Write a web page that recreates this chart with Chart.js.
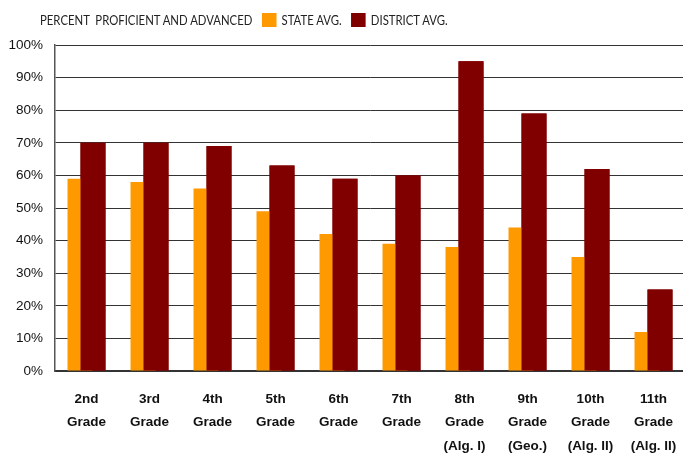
<!DOCTYPE html>
<html>
<head>
<meta charset="utf-8">
<script src="https://cdn.jsdelivr.net/npm/chart.js@4"></script>
<style>
  html, body { margin: 0; padding: 0; background: #fff; overflow: hidden; }
  #wrap { position: relative; width: 685px; height: 453px; }
  #legend {
    position: absolute; left: 40px; top: 11px;
    font: 14px Lato, "Open Sans", sans-serif; color: #222;
    display: flex; align-items: center; white-space: pre;
    transform: scaleX(0.81); transform-origin: left center;
  }
  #legend i { display: inline-block; width: 18px; height: 14px; margin: 0 6px 0 12px; }
</style>
</head>
<body>
<div id="wrap">
  <canvas id="chart"></canvas>
  <div id="legend"></div>
</div>
<script>
// Chart data
const categories = [
  ['2nd', 'Grade'], ['3rd', 'Grade'], ['4th', 'Grade'], ['5th', 'Grade'], ['6th', 'Grade'],
  ['7th', 'Grade'], ['8th', 'Grade', '(Alg. I)'], ['9th', 'Grade', '(Geo.)'],
  ['10th', 'Grade', '(Alg. II)'], ['11th', 'Grade', '(Alg. II)']
];
const stateAvg = [59, 58, 56, 49, 42, 39, 38, 44, 35, 12];
const districtAvg = [70, 70, 69, 63, 59, 60, 95, 79, 62, 25];
const legendTitle = 'PERCENT  PROFICIENT AND ADVANCED';

const colors = { state: '#FF9900', district: '#800000' };

// draw the district bars over the overlapping state bars (Excel-style overlap)
const districtOnTop = {
  id: 'districtOnTop',
  afterDatasetsDraw(chart) {
    chart.getDatasetMeta(1).controller.draw();
  }
};

const ctx = document.getElementById('chart').getContext('2d');
const chart = new Chart(ctx, {
  type: 'bar',
  data: {
    labels: categories,
    datasets: [{
      label: 'STATE AVG.',
      data: stateAvg,
      backgroundColor: colors.state,
      categoryPercentage: 0.413,
      barPercentage: 1.92
    }, {
      label: 'DISTRICT AVG.',
      data: districtAvg,
      backgroundColor: colors.district,
      categoryPercentage: 0.413,
      barPercentage: 1.92
    }]
  },
  plugins: [districtOnTop],
  options: {
    responsive: true,
    maintainAspectRatio: false,
    animation: false,
    layout: { padding: { top: 45, right: 0, left: 0, bottom: 0 } },
    plugins: {
      legend: { display: false },
      tooltip: { enabled: false }
    },
    scales: {
      x: {
        grid: { display: false, drawTicks: false },
        border: { color: '#333', width: 2 },
        ticks: {
          color: '#111',
          padding: 16,
          maxRotation: 0,
          autoSkip: false,
          font: { family: 'Liberation Sans', size: 13.5, weight: 'bold', lineHeight: 1.76 }
        },
        afterFit(scale) {
          scale.height = 82;
          scale.paddingLeft = 0;
          scale.paddingRight = 0;
        }
      },
      y: {
        min: 0,
        max: 100,
        grid: { color: '#333', lineWidth: 1, drawTicks: false },
        border: { color: '#555', width: 1.5 },
        ticks: {
          stepSize: 10,
          color: '#111',
          padding: 12,
          font: { family: 'Liberation Sans', size: 13.5 },
          callback: v => v + '%'
        },
        afterFit(scale) { scale.width = 55; }
      }
    }
  }
});

// Legend with leading title
const legend = document.getElementById('legend');
const title = document.createElement('span');
title.textContent = legendTitle;
legend.appendChild(title);
chart.data.datasets.forEach(ds => {
  const sw = document.createElement('i');
  sw.style.background = ds.backgroundColor;
  const txt = document.createElement('span');
  txt.textContent = ds.label;
  legend.appendChild(sw);
  legend.appendChild(txt);
});
</script>
</body>
</html>
